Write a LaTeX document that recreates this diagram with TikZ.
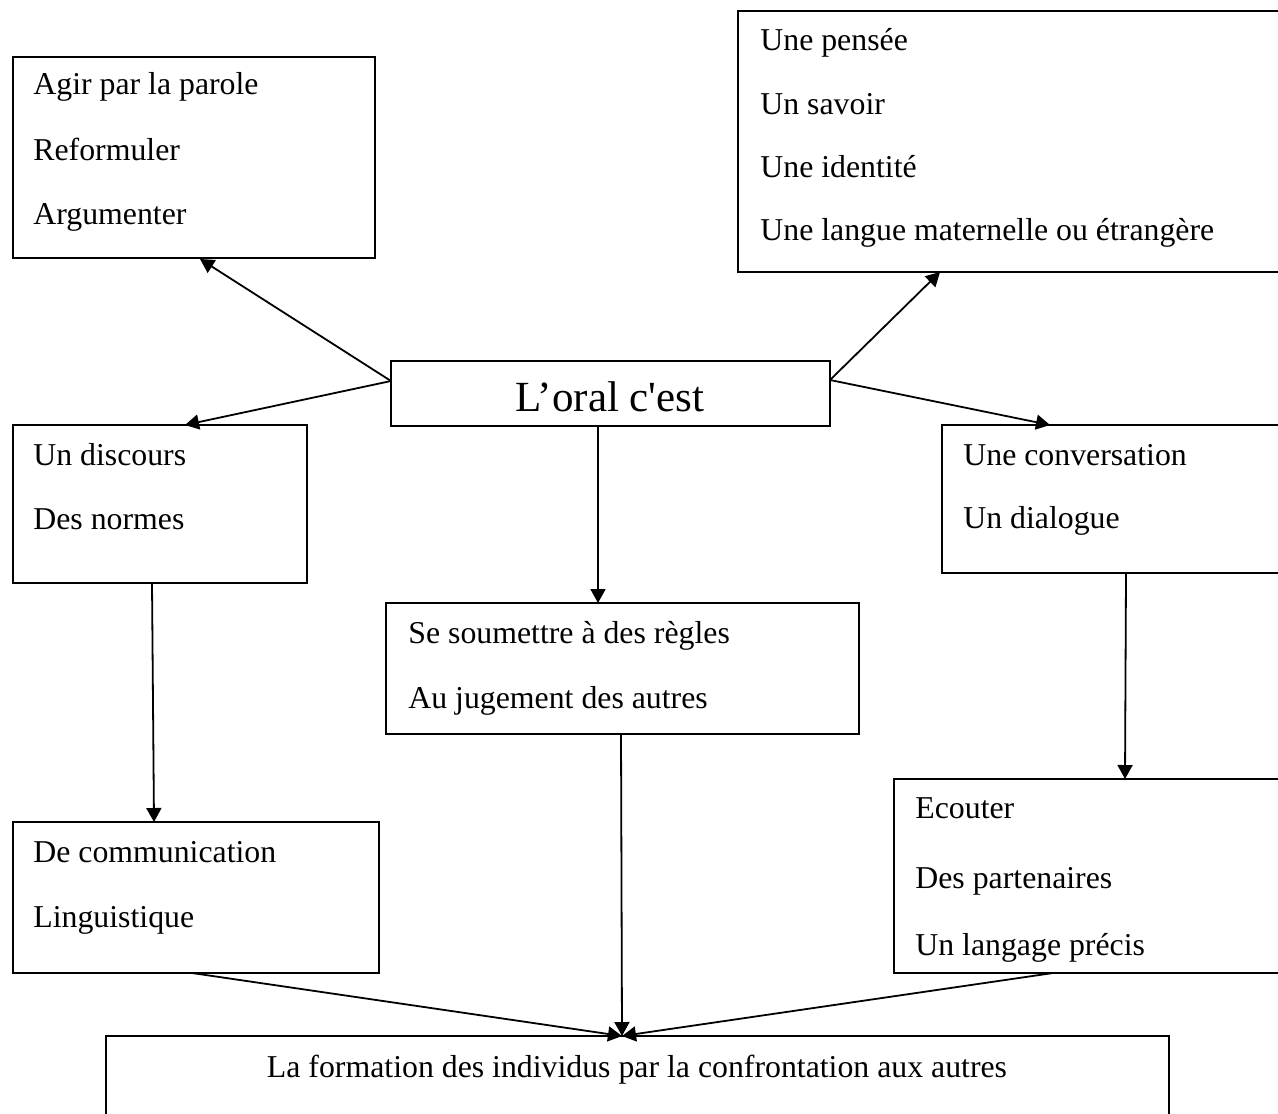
\documentclass[tikz,border=0pt]{standalone}
\usepackage{fontspec}
\setmainfont{Liberation Serif}
\newfontfamily\plainserif{Liberation Serif}
\usetikzlibrary{arrows.meta,calc,fit}
\begin{document}
\begin{tikzpicture}[x=0.5pt,y=-0.5pt,
  box/.style={draw, line width=1.25pt, inner sep=0pt, outer sep=0pt, rectangle},
  lbl/.style={inner sep=0pt, anchor=base west, font=\fontsize{15.9}{19}\selectfont},
  arr/.style={line width=0.9pt, -{Triangle[length=7pt,width=7.5pt]}}]
\useasboundingbox (0,0) rectangle (1278,1113);
\clip (0,0) rectangle (1278,1113);
\fill[white] (0,0) rectangle (1278,1113);

% boxes
\node[box, fit={(13,57) (375,258)}] (tl) {};
\node[box, fit={(738,11) (1300,272)}] (tr) {};
\node[box, fit={(391,361) (830,426)}] (ctr) {};
\node[box, fit={(13,425) (307,583)}] (lm) {};
\node[box, fit={(386,603) (859,734)}] (cm) {};
\node[box, fit={(942,425) (1300,573)}] (rm) {};
\node[box, fit={(13,822) (379,973)}] (bl) {};
\node[box, fit={(894,779) (1300,973)}] (br) {};
\node[box, fit={(106,1036) (1169,1140)}] (bot) {};

% texts
\node[inner sep=0pt, anchor=base, font=\fontsize{21.5}{24}\selectfont] (title) at (610,411) {\plainserif L’oral c'est};

\node[lbl] (t1a) at (33,95) {Agir par la parole};
\node[lbl] (t1b) at (33,160) {Reformuler};
\node[lbl] (t1c) at (33,224) {Argumenter};

\node[lbl] (t2a) at (760,51) {Une pensée};
\node[lbl] (t2b) at (760,114) {Un savoir};
\node[lbl] (t2c) at (760,177) {Une identité};
\node[lbl] (t2d) at (760,240) {Une langue maternelle ou étrangère};

\node[lbl] (t3a) at (33,465) {Un discours};
\node[lbl] (t3b) at (33,529) {Des normes};

\node[lbl] (t4a) at (963,465) {Une conversation};
\node[lbl] (t4b) at (963,528) {Un dialogue};

\node[lbl] (t5a) at (408,643) {Se soumettre à des règles};
\node[lbl] (t5b) at (408,708) {Au jugement des autres};

\node[lbl] (t6a) at (33,862) {De communication};
\node[lbl] (t6b) at (33,927) {Linguistique};

\node[lbl] (t7a) at (915,818) {Ecouter};
\node[lbl] (t7b) at (915,888) {Des partenaires};
\node[lbl] (t7c) at (915,955) {Un langage précis};

\node[lbl, anchor=base] (t8) at (637,1077) {La formation des individus par la confrontation aux autres};

% connectors
\draw[arr] ($(ctr.north west)+(0,20)$) -- ($(tl.south west)+(187,1)$);
\draw[arr] ($(ctr.north west)+(0,20)$) -- ($(lm.north west)+(172,0)$);
\draw[arr] ($(ctr.north east)+(0,19)$) -- ($(tr.south west)+(202,0)$);
\draw[arr] ($(ctr.north east)+(0,19)$) -- ($(rm.north west)+(108,0)$);
\draw[arr] ($(ctr.south west)+(207,0)$) -- ($(cm.north west)+(212,0)$);
\draw[arr] ($(lm.south west)+(139,0)$) -- ($(bl.north west)+(141,0)$);
\draw[arr] ($(rm.south west)+(184,0)$) -- ($(br.north west)+(231,0)$);
\draw[arr] ($(bl.south west)+(179,0)$) -- ($(bot.north west)+(516,0)$);
\draw[arr] ($(cm.south west)+(235,0)$) -- ($(bot.north west)+(516,0)$);
\draw[arr] ($(br.south west)+(159,0)$) -- ($(bot.north west)+(516,0)$);
\end{tikzpicture}
\end{document}
